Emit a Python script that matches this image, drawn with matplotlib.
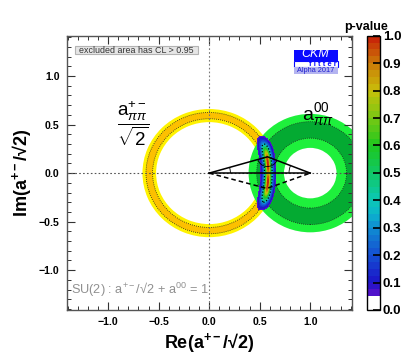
import math
import numpy as np
import matplotlib
matplotlib.use('Agg')
import matplotlib.pyplot as plt
from matplotlib.patches import Annulus, Circle, Arc, Rectangle
from matplotlib.colors import ListedColormap, BoundaryNorm, LinearSegmentedColormap
from matplotlib.cm import ScalarMappable
from matplotlib.ticker import MultipleLocator, FuncFormatter

plt.rcParams['font.family'] = ['Liberation Sans', 'DejaVu Sans']
plt.rcParams['mathtext.fontset'] = 'custom'
plt.rcParams['mathtext.rm'] = 'Liberation Sans'
plt.rcParams['mathtext.it'] = 'Liberation Sans:italic'
plt.rcParams['mathtext.bf'] = 'Liberation Sans:bold'

# a+-/sqrt2 constraint, ring around 0 (2 sigma / 1 sigma radii)
pm_center = (0.0, 0.0)
pm_2sig = (0.525, 0.66)
pm_1sig = (0.56, 0.625)

# a00 constraint, ring around 1
zz_center = (1.0, 0.0)
zz_2sig = (0.26, 0.61)
zz_1sig = (0.36, 0.53)

# combined fit (crescent)
cres_center = (-0.5, 0.0)
cres_radius = 1.085
cres_sigma_r = 0.038
cres_ym = 0.10
cres_scale_y = 0.20

# isospin triangles
tri_top = [(0.0, 0.0), (0.577, 0.168), (1.0, 0.0)]
tri_bot = [(0.0, 0.0), (0.571, -0.158), (1.0, 0.0)]

# p-value palette
pal_p = [0.05, 0.10, 0.20, 0.30, 0.35, 0.40, 0.50, 0.60, 0.70, 0.80, 0.90, 1.00]
pal_c = ['#5f12cc', '#1c14c8', '#1450d2', '#108cd2', '#0cb4cc', '#0cc8b4',
         '#10c864', '#1ec81e', '#78c814', '#c8c00a', '#cc7a08', '#c81e08']
levels = np.round(np.arange(0.05, 1.0001, 0.025), 3)

pal = LinearSegmentedColormap.from_list(
    'pv', [((p - pal_p[0]) / (pal_p[-1] - pal_p[0]), c) for p, c in zip(pal_p, pal_c)])
mids = (levels[:-1] + levels[1:]) / 2
band_colors = [pal((m - pal_p[0]) / (pal_p[-1] - pal_p[0])) for m in mids]

fig = plt.figure(figsize=(4.14, 3.61), dpi=100)
ax = fig.add_axes([0.161, 0.1413, 0.6885, 0.7597])
cax = fig.add_axes([0.8857, 0.1413, 0.032, 0.7597])

# rings
ax.add_patch(Annulus(pm_center, pm_2sig[1], pm_2sig[1] - pm_2sig[0], color='#fff200', lw=0))
ax.add_patch(Annulus(pm_center, pm_1sig[1], pm_1sig[1] - pm_1sig[0], color='#fcc000', lw=0))
ax.add_patch(Annulus(zz_center, zz_2sig[1], zz_2sig[1] - zz_2sig[0], color='#1ef03c', lw=0))
ax.add_patch(Annulus(zz_center, zz_1sig[1], zz_1sig[1] - zz_1sig[0], color='#04aa32', lw=0))
for c, rr in [(pm_center, pm_1sig), (zz_center, zz_1sig)]:
    for r in rr:
        ax.add_patch(Circle(c, r, fill=False, ls=(0, (1, 1.5)), lw=0.6, color='#222222'))

# combined p-value map
x = np.linspace(0.3, 0.9, 400)
y = np.linspace(-0.5, 0.5, 500)
X, Y = np.meshgrid(x, y)
R = np.hypot(X - cres_center[0], Y - cres_center[1])
chi2 = ((R - cres_radius) / cres_sigma_r) ** 2 + ((np.abs(Y) - cres_ym) / cres_scale_y) ** 4
P = np.vectorize(math.erfc)(np.sqrt(chi2 / 2))
ax.contourf(X, Y, P, levels=levels, colors=band_colors)
ax.contour(X, Y, P, levels=[0.32], colors='k', linestyles=[(0, (1, 1.5))], linewidths=0.9)

# axes cross lines
ax.axhline(0, color='#555555', ls=(0, (1.5, 2)), lw=0.8)
ax.axvline(0, color='#777777', ls=(0, (1.5, 2)), lw=0.8)

# triangles
tx, ty = zip(*tri_top)
ax.plot(tx, ty, color='k', lw=1.1)
bx, by = zip(*tri_bot)
ax.plot(bx, by, color='k', lw=1.1, ls=(0, (3, 2)))
ax.plot([0, 1], [0, 0], color='k', lw=1.1)
a0 = math.degrees(math.atan2(tri_top[1][1], tri_top[1][0]))
a1 = math.degrees(math.atan2(tri_top[1][1], tri_top[1][0] - 1))
ax.add_patch(Arc(tri_top[0], 0.42, 0.42, theta1=0, theta2=a0, lw=0.6, color='k'))
ax.add_patch(Arc(tri_top[2], 0.42, 0.42, theta1=a1, theta2=180, lw=0.6, color='k'))
ax.add_patch(Arc(tri_top[1], 0.2, 0.2, theta1=180 + a0, theta2=a1 + 180, lw=0.6, color='k'))

ax.set_xlim(-1.41, 1.41)
ax.set_ylim(-1.41, 1.415)

fmt = FuncFormatter(lambda v, p: ('%.1f' % v).replace('-', '\u2212'))
for a in (ax.xaxis, ax.yaxis):
    a.set_major_locator(MultipleLocator(0.5))
    a.set_minor_locator(MultipleLocator(0.1))
    a.set_major_formatter(fmt)
ax.tick_params(which='both', direction='in', top=True, right=True, color='#333333')
ax.tick_params(which='major', length=6, width=0.8, labelsize=7.6, pad=5)
ax.tick_params(which='minor', length=3, width=0.7)
for t in ax.get_xticklabels() + ax.get_yticklabels():
    t.set_fontweight('bold')
for s in ax.spines.values():
    s.set_color('#555555')
    s.set_linewidth(1.0)

ax.text(0.5, -0.078, r'Re(a$^{\mathbf{+-}}$/√2)', transform=ax.transAxes,
        ha='center', va='top', fontsize=13, fontweight='bold')
ax.text(-0.158, 0.5, r'Im(a$^{\mathbf{+-}}$/√2)', transform=ax.transAxes,
        ha='center', va='center', rotation=90, fontsize=13, fontweight='bold')

# labels
ax.text(-0.754, 0.505, r'$\dfrac{\mathrm{a}_{\pi\pi}^{+-}}{\sqrt{2}}$', ha='center', va='center',
        fontsize=13.5)
ax.text(1.07, 0.60, r'$\mathrm{a}_{\pi\pi}^{00}$', ha='center', va='center', fontsize=14)
ax.text(0.015, 0.073, r'SU(2) : a$^{+-}$/√2 + a$^{00}$ = 1', transform=ax.transAxes,
        ha='left', va='center', fontsize=9.2, color='#909090')

# excluded area box
ax.add_patch(Rectangle((0.029, 0.933), 0.432, 0.029, transform=ax.transAxes,
                       facecolor='#e6e6e6', edgecolor='#b4b4b4', lw=0.8))
ax.text(0.043, 0.9475, 'excluded area has CL > 0.95', transform=ax.transAxes,
        ha='left', va='center', fontsize=6.4, color='#333333')

# CKMfitter logo
ax.add_patch(Rectangle((0.797, 0.909), 0.155, 0.039, transform=ax.transAxes,
                       facecolor='#0a0aff', edgecolor='none'))
ax.add_patch(Rectangle((0.797, 0.887), 0.155, 0.022, transform=ax.transAxes,
                       facecolor='white', edgecolor='#0a0aff', lw=0.8))
ax.add_patch(Rectangle((0.797, 0.860), 0.155, 0.026, transform=ax.transAxes,
                       facecolor='#b4b4f0', edgecolor='none'))
ax.text(0.872, 0.932, 'CKM', transform=ax.transAxes, ha='center', va='center',
        fontsize=9, color='white', style='italic')
ax.text(0.946, 0.8965, 'f i t t e r', transform=ax.transAxes, ha='right', va='center',
        fontsize=5.4, color='#0a0aff', fontweight='bold')
ax.text(0.874, 0.873, 'Alpha 2017', transform=ax.transAxes, ha='center', va='center',
        fontsize=5.3, color='#2020d0')

# colour bar
bounds = np.concatenate([[0.0], levels])
cmap = ListedColormap(['white'] + band_colors)
norm = BoundaryNorm(bounds, cmap.N)
cb = fig.colorbar(ScalarMappable(norm=norm, cmap=cmap), cax=cax, spacing='proportional',
                  ticks=np.round(np.arange(0, 1.01, 0.1), 1))
cb.outline.set_linewidth(1.0)
cb.ax.yaxis.set_major_formatter(FuncFormatter(lambda v, p: '%.1f' % v))
cax.tick_params(direction='in', length=5, width=1.2, labelsize=9.5, pad=2)
cax.minorticks_off()
for t in cax.get_yticklabels():
    t.set_fontweight('bold')
fig.text(366 / 414, 1 - 33 / 361, 'p-value', ha='center', va='bottom',
         fontsize=9, fontweight='bold')

fig.savefig('out.png', dpi=100)
